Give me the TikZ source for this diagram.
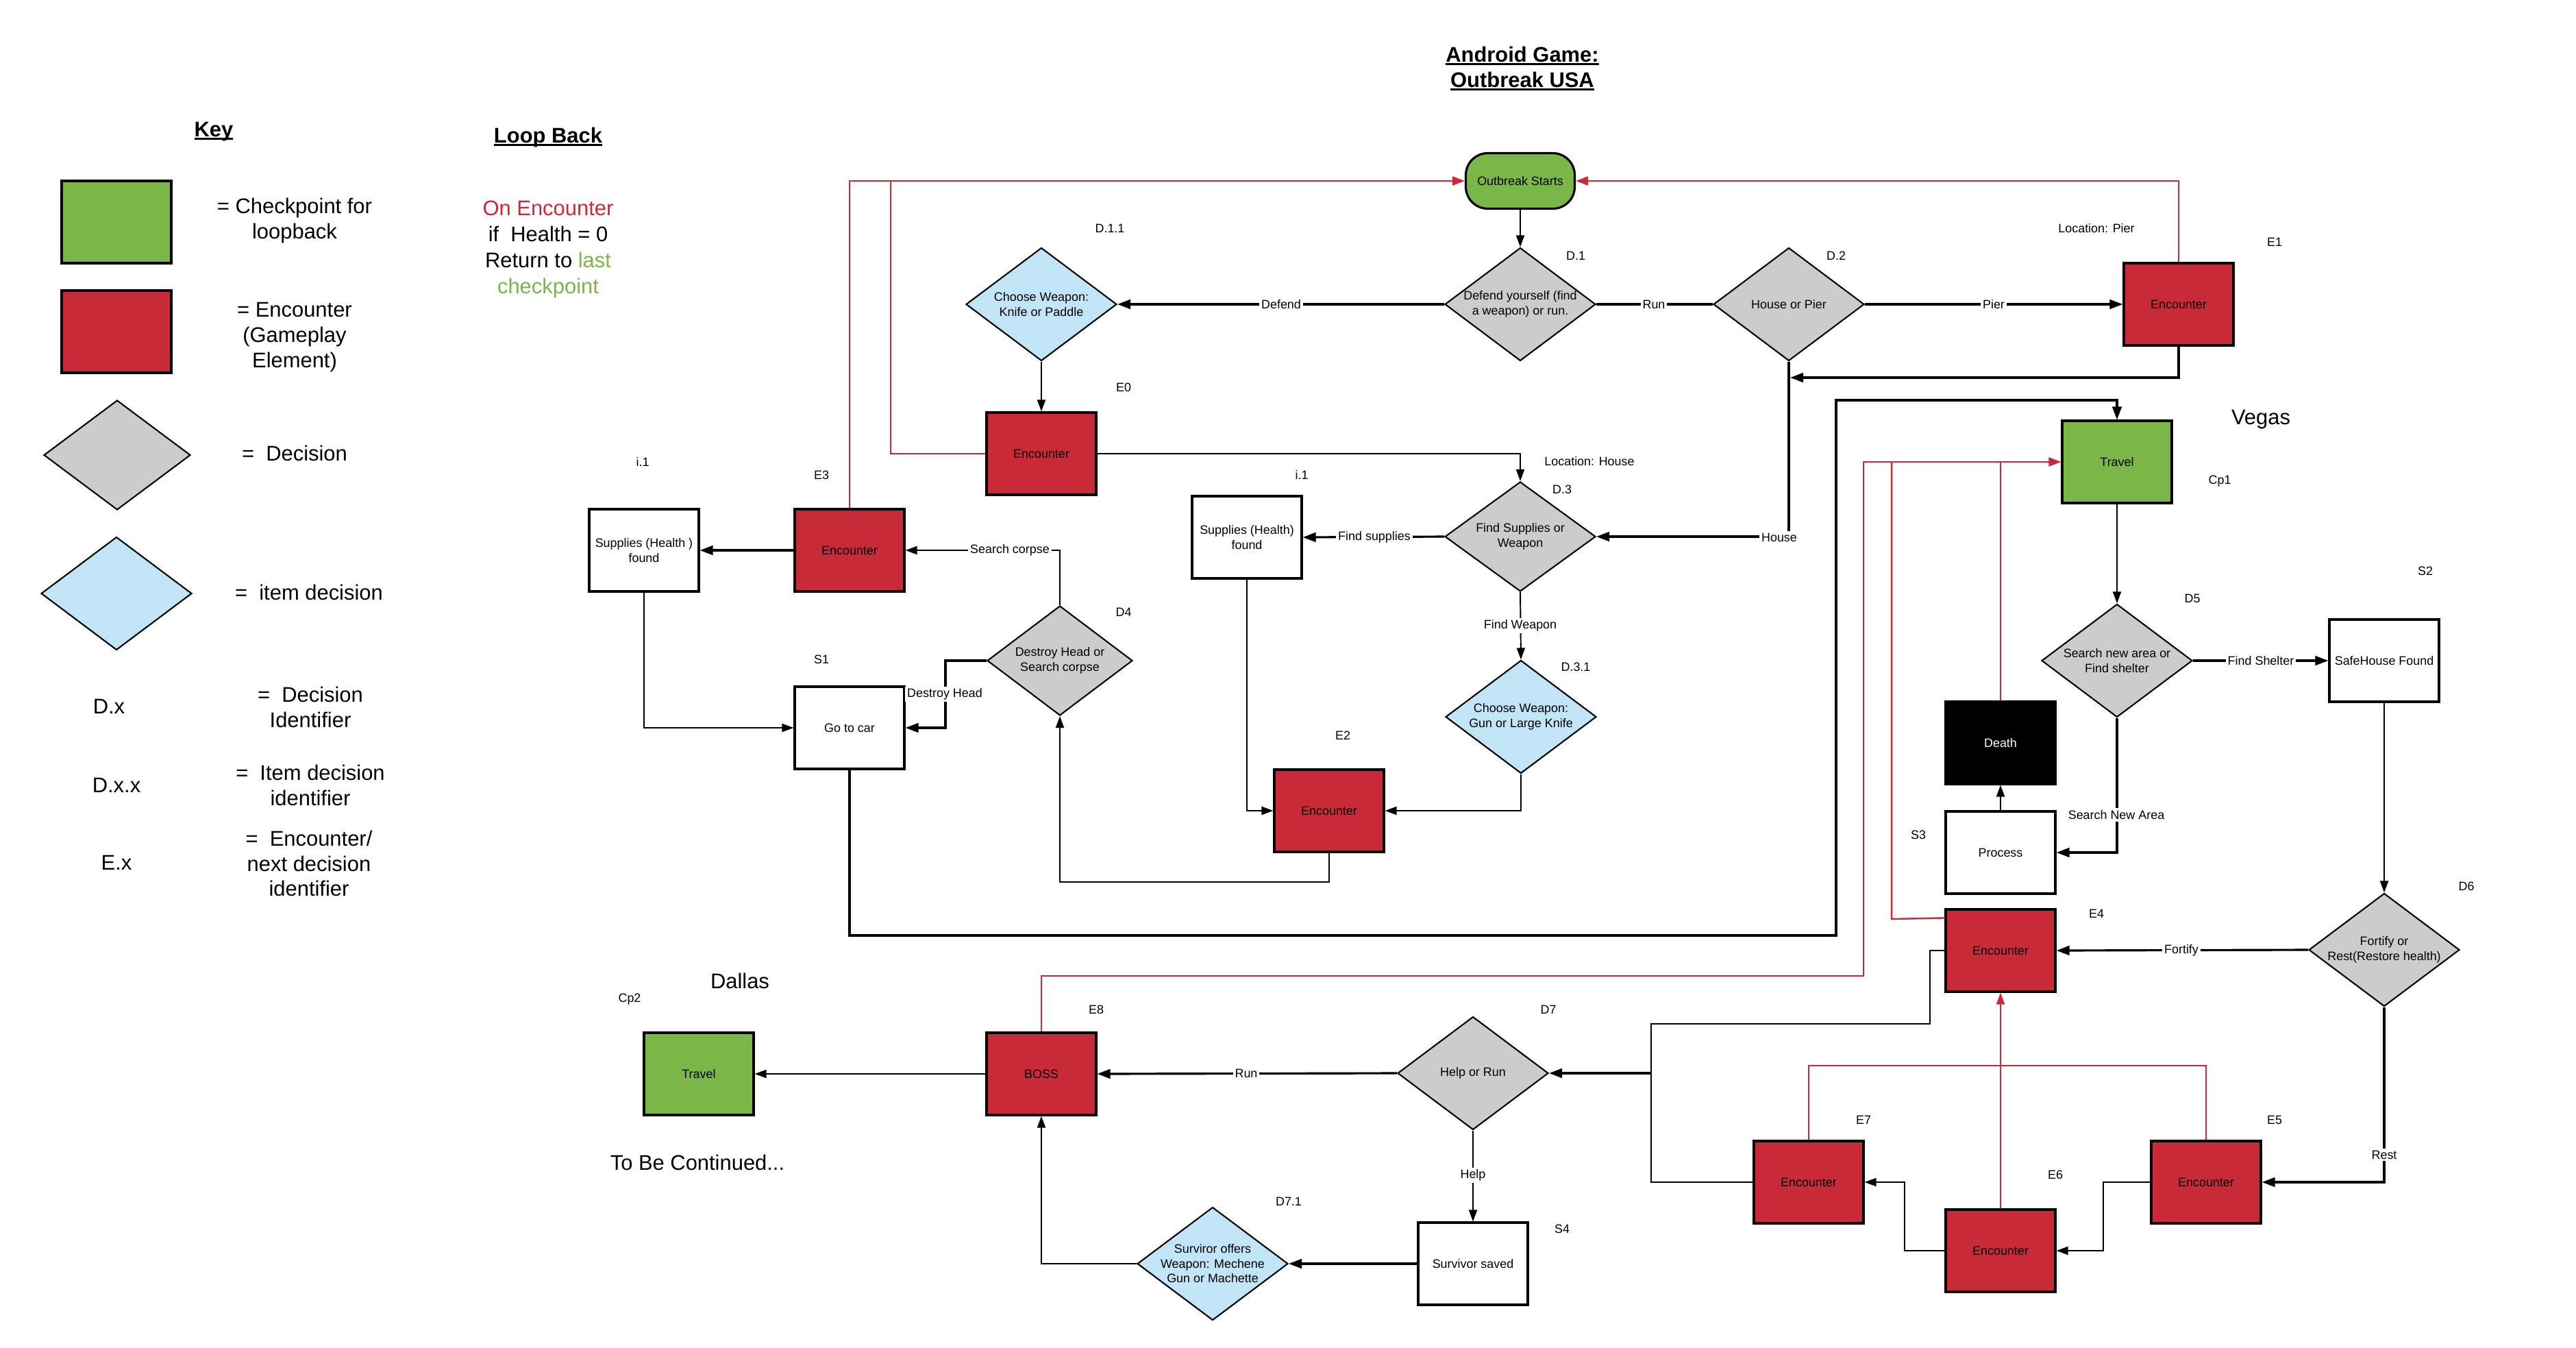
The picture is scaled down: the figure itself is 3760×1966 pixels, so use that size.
\documentclass[tikz,border=0pt]{standalone}
\usepackage{fontspec}
\setmainfont{Liberation Sans}
\usetikzlibrary{shapes.geometric,arrows.meta}
\definecolor{encred}{HTML}{C92A37}
\definecolor{lnred}{HTML}{CC2936}
\definecolor{chkgreen}{HTML}{7AB648}
\definecolor{decgray}{HTML}{CCCCCC}
\definecolor{itemblue}{HTML}{C1E4F7}
\newcommand\smallf{\fontsize{5.1}{6.1}\selectfont}
\newcommand\bigf{\fontsize{8.8}{10.5}\selectfont}
\newsavebox\ulbox
\newcommand\myul[1]{\leavevmode\sbox\ulbox{#1}\rlap{\rule[-1.4pt]{\wd\ulbox}{0.85pt}}\usebox\ulbox}
\tikzset{
  box/.style={draw, line width=0.9pt, minimum width=16mm, minimum height=12mm, font=\smallf, align=center, inner sep=0pt},
  enc/.style={box, fill=encred},
  chk/.style={box, fill=chkgreen},
  plain/.style={box, fill=white},
  dia/.style={diamond, draw, line width=0.6pt, minimum width=22mm, minimum height=16.5mm, inner sep=0pt},
  dec/.style={dia, fill=decgray},
  item/.style={dia, fill=itemblue},
  dtxt/.style={font=\smallf, align=center, inner sep=0pt},
  ll/.style={font=\smallf, fill=white, inner sep=0.3mm},
  idt/.style={font=\smallf, inner sep=0pt},
  bigt/.style={font=\bigf, align=center, inner sep=0pt},
  lk/.style={line width=0.55pt, -{Triangle[length=1.7mm,width=1.2mm]}},
  lkn/.style={line width=0.55pt},
  tk/.style={line width=0.9pt, -{Triangle[length=1.9mm,width=1.35mm]}},
  tkn/.style={line width=0.9pt},
  rd/.style={draw=lnred, line width=0.7pt},
  rda/.style={rd, -{Triangle[length=1.8mm,width=1.3mm]}},
  rdt/.style={draw=lnred, line width=0.45pt},
}
\begin{document}
\begin{tikzpicture}[x=0.1mm, y=-0.1mm]
\useasboundingbox (0,0) rectangle (3760,1966);
\fill[white] (0,0) rectangle (3760,1966);

% ---------- Legend ----------
\node[bigt] (keyt) at (312,192) {\textbf{\myul{Key}}};
\node[chk] (lg1) at (170,324) {};
\node[bigt] (lg1t) at (430,322) {= Checkpoint for\\loopback};
\node[enc] (lg2) at (170,484) {};
\node[bigt] (lg2t) at (430,492) {= Encounter\\(Gameplay\\Element)};
\node[dec, minimum width=21.4mm, minimum height=16mm] (lg3) at (171,664) {};
\node[bigt] (lg3t) at (430,661) {=\ \ Decision};
\node[item] (lg4) at (170,866) {};
\node[bigt] (lg4t) at (451,864) {=\ \ item decision};
\node[bigt] (lg5) at (159,1031) {D.x};
\node[bigt] (lg5t) at (453,1032) {=\ \ Decision\\Identifier};
\node[bigt] (lg6) at (170,1146) {D.x.x};
\node[bigt] (lg6t) at (453,1146) {=\ \ Item decision\\identifier};
\node[bigt] (lg7) at (170,1259) {E.x};
\node[bigt] (lg7t) at (451,1260) {=\ \ Encounter/\\next decision\\identifier};

\node[bigt] (lbt) at (800,200) {\textbf{\myul{Loop Back}}};
\node[bigt, font=\fontsize{8.8}{10.8}\selectfont] (lbx) at (800,364) {\textcolor{lnred}{On Encounter}\\if\ \ Health = 0\\Return to \textcolor{chkgreen}{last}\\\textcolor{chkgreen}{checkpoint}};

\node[bigt] (title) at (2222,100) {\textbf{\myul{Android Game:}}\\\textbf{\myul{Outbreak USA}}};

% ---------- Nodes ----------
\node[chk, rounded corners=3.2mm, minimum width=15.9mm, minimum height=8.1mm] (os) at (2219,264) {Outbreak Starts};
\node[dec, label={[dtxt]center:Defend yourself (find\\a weapon) or run.}] (d1) at (2219,444) {};
\node[item, label={[dtxt]center:Choose Weapon:\\Knife or Paddle}] (d11) at (1520,444) {};
\node[enc] (e0) at (1520,662) {Encounter};
\node[dec, label={[dtxt]center:House or Pier}] (d2) at (2611,444) {};
\node[enc] (e1) at (3180,444) {Encounter};
\node[dec, minimum height=16mm, label={[dtxt]center:Find Supplies or\\Weapon}] (d3) at (2219,783) {};
\node[plain] (sup2) at (1820,784) {Supplies (Health)\\found};
\node[item, label={[dtxt]center:Choose Weapon:\\Gun or Large Knife}] (d31) at (2220,1046) {};
\node[enc] (e2) at (1940,1183) {Encounter};
\node[enc] (e3) at (1240,803) {Encounter};
\node[plain] (sup1) at (940,803) {Supplies (Health )\\found};
\node[plain] (car) at (1240,1062) {Go to car};
\node[dec, minimum width=21.2mm, minimum height=16mm, label={[dtxt]center:Destroy Head or\\Search corpse}] (d4) at (1547,964) {};
\node[chk] (trv1) at (3090,674) {Travel};
\node[dec, label={[dtxt]center:Search new area or\\Find shelter}] (d5) at (3090,964) {};
\node[plain] (safe) at (3480,964) {SafeHouse Found};
\node[box, fill=black, text=white] (death) at (2920,1084) {Death};
\node[plain] (proc) at (2920,1244) {Process};
\node[enc] (e4) at (2920,1387) {Encounter};
\node[dec, label={[dtxt]center:Fortify or\\Rest(Restore health)}] (d6) at (3480,1386) {};
\node[enc] (e5) at (3220,1725) {Encounter};
\node[enc] (e6) at (2920,1825) {Encounter};
\node[enc] (e7) at (2640,1725) {Encounter};
\node[dec, label={[dtxt]center:Help or Run}] (d7) at (2150,1566) {};
\node[enc] (boss) at (1520,1567) {BOSS};
\node[chk] (trv2) at (1020,1567) {Travel};
\node[plain] (s4) at (2150,1844) {Survivor saved};
\node[item, label={[dtxt]center:Surviror offers\\Weapon: Mechene\\Gun or Machette}] (d71) at (1770,1844) {};

% ---------- ID labels ----------
\node[idt] (id1) at (1620,333) {D.1.1};
\node[idt] (id2) at (2300,373) {D.1};
\node[idt] (id3) at (1640,565) {E0};
\node[idt] (id4) at (2680,373) {D.2};
\node[idt] (id5) at (3060,333) {Location: Pier};
\node[idt] (id6) at (3320,353) {E1};
\node[idt] (id7) at (2320,673) {Location: House};
\node[idt] (id8) at (2280,714) {D.3};
\node[idt] (id9) at (1900,693) {i.1};
\node[idt] (id10) at (938,674) {i.1};
\node[idt] (id11) at (1199,693) {E3};
\node[idt] (id12) at (1640,893) {D4};
\node[idt] (id13) at (1199,962) {S1};
\node[idt] (id14) at (2300,973) {D.3.1};
\node[idt] (id15) at (1960,1073) {E2};
\node[idt] (id16) at (3240,702) {Cp1};
\node[idt] (id17) at (3200,873) {D5};
\node[idt] (id18) at (3540,833) {S2};
\node[idt] (id19) at (2800,1218) {S3};
\node[idt] (id20) at (3060,1333) {E4};
\node[idt] (id21) at (3600,1293) {D6};
\node[idt] (id22) at (3320,1634) {E5};
\node[idt] (id23) at (3000,1714) {E6};
\node[idt] (id24) at (2720,1634) {E7};
\node[idt] (id25) at (2260,1473) {D7};
\node[idt] (id26) at (1600,1473) {E8};
\node[idt] (id27) at (919,1458) {Cp2};
\node[idt] (id28) at (2280,1793) {S4};
\node[idt] (id29) at (1881,1753) {D7.1};
\node[bigt] (vegas) at (3300,612) {Vegas};
\node[bigt] (dallas) at (1080,1431) {Dallas};
\node[bigt] (tbc) at (1018,1696) {To Be Continued...};

% ---------- Red loop-back connectors ----------
\draw[rda] (e1.north) |- (os.east);
\draw[rda] (e3.north) |- (os.west);
\draw[rd] (e0.west) -| (1300,264);
\draw[rda] (boss.north) |- (2720,1424) |- (trv1.west);
\draw[rd] (e4.north west) ++(0,14) -- (2761,1341) -- (2761,674);
\draw[rdt] (death.north) -- (2920,674);
\draw[rdt, -{Triangle[length=1.7mm,width=1.2mm]}] (e6.north) -- (e4.south);
\draw[rdt] (e7.north) -- (2640,1555) -| (e5.north);

% ---------- Black connectors ----------
\coordinate (j1) at (2613,551);
\coordinate (j2) at (2410,1566);
\draw[lk] (os.south) -- (d1.north);
\draw[tk] (d1.west) -- (d11.east);
\draw[tkn] (d1.east) -- (d2.west);
\draw[tk] (d2.east) -- (e1.west);
\draw[tk] (e1.south) |- (j1);
\draw[tk] (d2.south) |- (d3.east);
\draw[lk] (d11.south) -- (e0.north);
\draw[lk] (e0.east) -| (d3.north);
\draw[tk] (d3.west) -- (sup2.east);
\draw[lk] (d3.south) -- (d31.north);
\draw[lk] (d31.south) |- (e2.east);
\draw[lk] (sup2.south) |- (e2.west);
\draw[lk] (e2.south) -- ++(0,42) -| (d4.south);
\draw[lk] (d4.north) |- (e3.east);
\draw[tk] (d4.west) -- (1380,964) |- (car.east);
\draw[tk] (e3.west) -- (sup1.east);
\draw[lk] (sup1.south) |- (car.west);
\draw[tk] (car.south) -- (1240,1365) -- (2680,1365) -- (2680,584) -| (trv1.north);
\draw[lk] (trv1.south) -- (d5.north);
\draw[tk] (d5.east) -- (safe.west);
\draw[tk] (d5.south) |- (proc.east);
\draw[lk] (proc.north) -- (death.south);
\draw[lk] (safe.south) -- (d6.north);
\draw[tk] (d6.west) -- (e4.east);
\draw[tk] (d6.south) |- (e5.east);
\draw[lk] (e5.west) -- (3070,1725) |- (e6.east);
\draw[lk] (e6.west) -- (2780,1825) |- (e7.east);
\draw[lkn] (e7.west) -- (2410,1725) -- (2410,1494) -- (2817,1494) |- (e4.west);
\draw[tk] (j2) -- (d7.east);
\draw[tk] (d7.west) -- (boss.east);
\draw[lk] (boss.west) -- (trv2.east);
\draw[lk] (d7.south) -- (s4.north);
\draw[tk] (s4.west) -- (d71.east);
\draw[lk] (d71.west) -| (boss.south);

% ---------- Connector labels ----------
\node[ll] (lDef) at (1870,444) {Defend};
\node[ll] (lRun1) at (2414,444) {Run};
\node[ll] (lPier) at (2910,444) {Pier};
\node[ll] (lHouse) at (2597,784) {House};
\node[ll] (lFS) at (2006,784) {Find supplies};
\node[ll] (lFW) at (2219,913) {Find Weapon};
\node[ll] (lSC) at (1474,803) {Search corpse};
\node[ll] (lDH) at (1379,1013) {Destroy Head};
\node[ll] (lFSh) at (3300,964) {Find Shelter};
\node[ll] (lSNA) at (3089,1189) {Search New Area};
\node[ll] (lFort) at (3184,1387) {Fortify};
\node[ll] (lRest) at (3480,1685) {Rest};
\node[ll] (lRun2) at (1819,1566) {Run};
\node[ll] (lHelp) at (2150,1715) {Help};
\end{tikzpicture}
\end{document}
